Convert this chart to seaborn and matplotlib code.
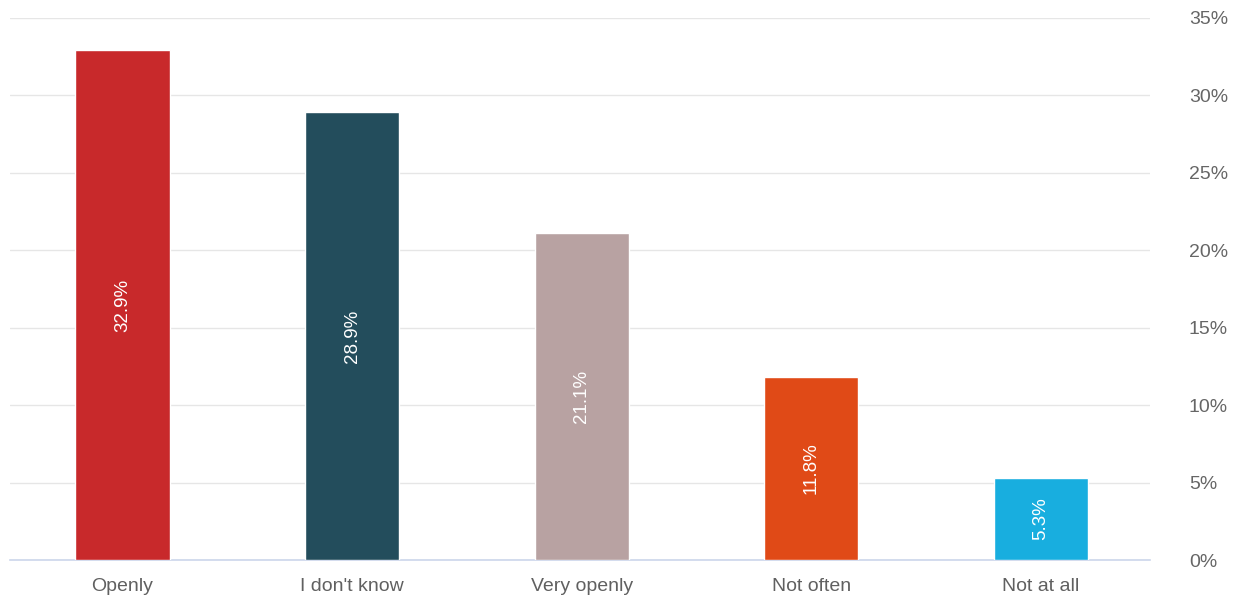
import matplotlib
matplotlib.use("Agg")
import matplotlib.pyplot as plt
import seaborn as sns
import pandas as pd

categories = ["Openly", "I don't know", "Very openly", "Not often", "Not at all"]
values = [32.9, 28.9, 21.1, 11.8, 5.3]
colors = ["#c8292b", "#234d5c", "#b8a2a2", "#e04a17", "#18aedf"]
yticks = [0, 5, 10, 15, 20, 25, 30, 35]

sns.set_theme(style="white")
plt.rcParams['font.family'] = ['Liberation Sans', 'DejaVu Sans']

df = pd.DataFrame({"cat": categories, "val": values})

fig = plt.figure(figsize=(12.5, 5.99), dpi=100)
ax = fig.add_axes([0.008, 0.0651, 0.912, 0.905])
sns.barplot(data=df, x="cat", y="val", hue="cat", palette=colors, legend=False,
            width=0.41, ax=ax, saturation=1, zorder=3)

ax.set_xlim(-0.49, 4.475)
ax.set_ylim(0, 35)
ax.set_yticks(yticks)
ax.set_yticklabels([f"{t}%" for t in yticks])
ax.yaxis.tick_right()
ax.grid(axis="y", color="#e6e6e6", linewidth=1, zorder=0)
ax.set_axisbelow(True)
for s in ["top", "left", "right"]:
    ax.spines[s].set_visible(False)
ax.spines["bottom"].set_color("#ccd6eb")
ax.spines["bottom"].set_linewidth(1.2)
ax.tick_params(axis="y", length=0, pad=28, labelsize=14, labelcolor="#666666")
ax.tick_params(axis="x", length=0, pad=13, labelsize=14, labelcolor="#606060")
ax.set_xlabel("")
ax.set_ylabel("")

for i, v in enumerate(values):
    ax.text(i, v / 2, f"{v}%", rotation=90, ha="center", va="center",
            color="white", fontsize=13.5)

fig.savefig("out.png", dpi=100)
